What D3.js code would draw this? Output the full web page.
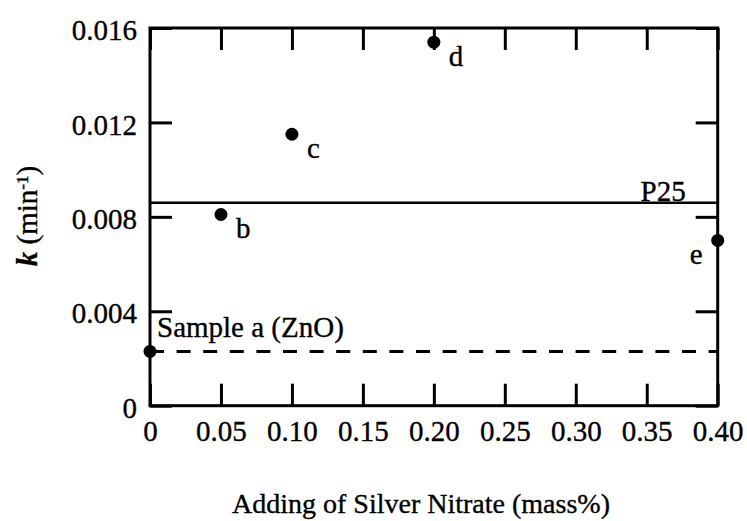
<!DOCTYPE html>
<html>
<head>
<meta charset="utf-8">
<script src="https://cdn.jsdelivr.net/npm/d3@7"></script>
<style>
  html, body { margin: 0; padding: 0; background: #fff; }
  svg { display: block; }
  svg text { font-family: "Liberation Serif", "Times New Roman", serif !important; fill: #000; stroke: #000; stroke-width: 0.35px; }
</style>
</head>
<body>
<svg id="chart" width="747" height="521"></svg>
<script>
// Rate constant k versus silver nitrate loading
const sampleLabels = ["a", "b", "c", "d", "e"];
const silverNitrate = [0, 0.05, 0.10, 0.20, 0.40];
const rateK = [0.0023, 0.0081, 0.0115, 0.0154, 0.0070];

// Reference levels
const p25Rate = 0.0086;
const zincOxideRate = 0.0023;

// Axis ticks
const xTicks = [0, 0.05, 0.10, 0.15, 0.20, 0.25, 0.30, 0.35, 0.40];
const xTickLabels = ["0", "0.05", "0.10", "0.15", "0.20", "0.25", "0.30", "0.35", "0.40"];
const yTicks = [0, 0.004, 0.008, 0.012, 0.016];
const yTickLabels = ["0", "0.004", "0.008", "0.012", "0.016"];

const svg = d3.select("#chart");
const plotLeft = 150, plotRight = 717.7, plotTop = 28, plotBottom = 405.7;
const tickLen = 22;
const fontSize = 29;

const x = d3.scaleLinear().domain([0, 0.40]).range([plotLeft, plotRight]);
const y = d3.scaleLinear().domain([0, 0.016]).range([plotBottom, plotTop]);

function styleAxis(g) {
  g.select(".domain").remove();
  g.attr("font-family", null).attr("font-size", null);
  g.selectAll(".tick line").attr("stroke", "#000").attr("stroke-width", 3);
  g.selectAll(".tick text").attr("font-size", fontSize).attr("fill", "#000");
}

// Bottom axis with labels, inward ticks
svg.append("g").attr("transform", `translate(0,${plotBottom})`)
  .call(d3.axisBottom(x).tickValues(xTicks).tickSize(-tickLen).tickPadding(15)
    .tickFormat((d, i) => xTickLabels[i]))
  .call(styleAxis);

// Top axis, ticks only
svg.append("g").attr("transform", `translate(0,${plotTop})`)
  .call(d3.axisTop(x).tickValues(xTicks).tickSize(-tickLen).tickFormat(""))
  .call(styleAxis);

// Left axis with labels
const yAxisG = svg.append("g").attr("transform", `translate(${plotLeft},0)`)
  .call(d3.axisLeft(y).tickValues(yTicks).tickSize(-tickLen).tickPadding(13)
    .tickFormat((d, i) => yTickLabels[i]))
  .call(styleAxis);
yAxisG.selectAll(".tick text").attr("dy", "0.40em");

// Right axis, ticks only
svg.append("g").attr("transform", `translate(${plotRight},0)`)
  .call(d3.axisRight(y).tickValues(yTicks).tickSize(-tickLen).tickFormat(""))
  .call(styleAxis);

// Frame
svg.append("rect")
  .attr("x", plotLeft).attr("y", plotTop)
  .attr("width", plotRight - plotLeft).attr("height", plotBottom - plotTop)
  .attr("fill", "none").attr("stroke", "#000").attr("stroke-width", 3);

// P25 reference line
svg.append("line")
  .attr("x1", plotLeft).attr("x2", plotRight)
  .attr("y1", y(p25Rate)).attr("y2", y(p25Rate))
  .attr("stroke", "#000").attr("stroke-width", 2.5);
svg.append("text")
  .attr("x", plotRight - 32).attr("y", y(p25Rate) - 2)
  .attr("text-anchor", "end").attr("font-size", fontSize)
  .text("P25");

// ZnO reference line (dashed)
svg.append("line")
  .attr("x1", plotLeft).attr("x2", plotRight)
  .attr("y1", y(zincOxideRate)).attr("y2", y(zincOxideRate))
  .attr("stroke", "#000").attr("stroke-width", 3)
  .attr("stroke-dasharray", "14,12.6");
svg.append("text")
  .attr("x", plotLeft + 7).attr("y", y(zincOxideRate) - 14)
  .attr("font-size", fontSize)
  .text("Sample a (ZnO)");

// Data points
const points = silverNitrate.map((v, i) => ({ x: v, k: rateK[i], label: sampleLabels[i] }));
svg.append("g").selectAll("circle").data(points).join("circle")
  .attr("cx", d => x(d.x)).attr("cy", d => y(d.k))
  .attr("r", 6.5).attr("fill", "#000");

// Point letters (sample a is labelled by the reference line text)
svg.append("g").selectAll("text").data(points.filter(d => d.label !== "a")).join("text")
  .attr("x", d => d.label === "e" ? x(d.x) - 15 : x(d.x) + 15)
  .attr("y", d => y(d.k) + 24)
  .attr("text-anchor", d => d.label === "e" ? "end" : "start")
  .attr("font-size", fontSize)
  .text(d => d.label);

// Axis titles
svg.append("text")
  .attr("x", 421).attr("y", 513)
  .attr("text-anchor", "middle").attr("font-size", 28)
  .text("Adding of Silver Nitrate (mass%)");

const yTitle = svg.append("text")
  .attr("transform", "translate(37,216) rotate(-90)")
  .attr("text-anchor", "middle").attr("font-size", fontSize);
yTitle.append("tspan").attr("font-style", "italic").attr("font-weight", "bold").text("k");
yTitle.append("tspan").text(" (min");
yTitle.append("tspan").attr("font-size", 17).attr("dy", "-0.55em").text("-1");
yTitle.append("tspan").attr("dy", "0.33em").text(")");
</script>
</body>
</html>
